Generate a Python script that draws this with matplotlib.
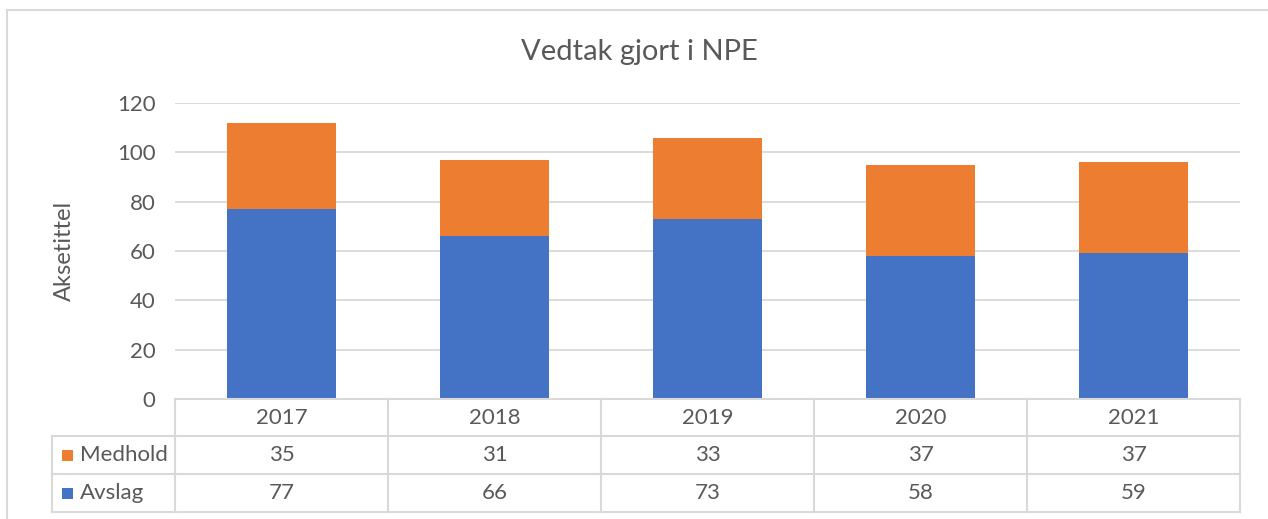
import matplotlib
matplotlib.use("Agg")
import matplotlib.pyplot as plt
from matplotlib.patches import Rectangle
from matplotlib.lines import Line2D

years = ["2017", "2018", "2019", "2020", "2021"]
avslag = [77, 66, 73, 58, 59]
medhold = [35, 31, 33, 37, 37]
series_names = ["Medhold", "Avslag"]

BLUE = "#4472C4"
ORANGE = "#ED7D31"
TXT = "#595959"
GRID = "#D9D9D9"

plt.rcParams['font.family'] = ['Lato', 'DejaVu Sans']

W, H = 1268, 519
fig = plt.figure(figsize=(W / 100, H / 100), dpi=100)


def fx(px):
    return px / W


def fy(py):
    return 1 - py / H


# outer chart border
fig.add_artist(Rectangle((fx(7), fy(600)), fx(1400), fy(10) - fy(600),
                         transform=fig.transFigure, fill=False,
                         edgecolor=GRID, linewidth=1.5))

left, right, top, bottom = 175, 1240, 103, 399
ax = fig.add_axes([fx(left), fy(bottom), fx(right - left), fy(top) - fy(bottom)])

x = range(len(years))
ax.bar(x, avslag, width=0.51, color=BLUE, zorder=3)
ax.bar(x, medhold, width=0.51, bottom=avslag, color=ORANGE, zorder=3)

ax.set_xlim(-0.5, len(years) - 0.5)
ax.set_ylim(0, 120)
ax.set_yticks(range(0, 121, 20))
ax.set_xticks([])
ax.grid(axis='y', color=GRID, linewidth=1.3, zorder=0)
for s in ax.spines.values():
    s.set_visible(False)
ax.tick_params(axis='y', length=0, pad=14, labelsize=16, labelcolor=TXT)
ax.set_ylabel("Aksetittel", fontsize=17, color=TXT, labelpad=30)

fig.text(fx(639), fy(52), "Vedtak gjort i NPE", ha='center', va='center',
         fontsize=21, color=TXT)

# data table below the axis
rows = [bottom, 436, 474, 512]
label_left = 52
colw = (right - left) / len(years)


def hline(y, x0, x1):
    fig.add_artist(Line2D([fx(x0), fx(x1)], [fy(y), fy(y)],
                          transform=fig.transFigure, color=GRID, linewidth=1.5))


def vline(xp, y0, y1):
    fig.add_artist(Line2D([fx(xp), fx(xp)], [fy(y0), fy(y1)],
                          transform=fig.transFigure, color=GRID, linewidth=1.5))


hline(rows[0], left, right)
for r in rows[1:]:
    hline(r, label_left, right)
vline(label_left, rows[1], rows[3])
for i in range(len(years) + 1):
    vline(left + i * colw, rows[0], rows[3])

for i, yr in enumerate(years):
    cx = left + (i + 0.5) * colw
    fig.text(fx(cx), fy((rows[0] + rows[1]) / 2), yr, ha='center', va='center',
             fontsize=16, color=TXT)
    fig.text(fx(cx), fy((rows[1] + rows[2]) / 2), str(medhold[i]), ha='center',
             va='center', fontsize=16, color=TXT)
    fig.text(fx(cx), fy((rows[2] + rows[3]) / 2), str(avslag[i]), ha='center',
             va='center', fontsize=16, color=TXT)

for name, color, r in zip(series_names, [ORANGE, BLUE], [1, 2]):
    cy = (rows[r] + rows[r + 1]) / 2
    fig.add_artist(Rectangle((fx(62), fy(cy + 5.5)), fx(11), fy(cy - 5.5) - fy(cy + 5.5),
                             transform=fig.transFigure, facecolor=color, edgecolor='none'))
    fig.text(fx(80), fy(cy), name, ha='left', va='center', fontsize=16, color=TXT)

fig.savefig("out.png", dpi=100)
